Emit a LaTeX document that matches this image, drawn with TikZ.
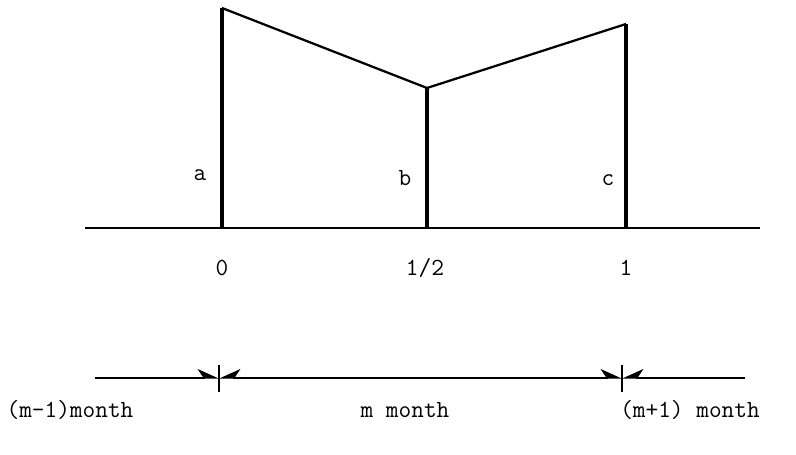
\documentclass[tikz,border=0pt]{standalone}
\usepackage{fontspec}
\usetikzlibrary{arrows.meta}
\tikzset{
  post/.style={line width=2.2pt},
  roof/.style={line width=1.6pt},
  lbl/.style={font=\ttfamily\fontsize{17.5}{20}\selectfont, inner sep=0pt},
  eastharp/.style={line width=0.9pt,-{Stealth[harpoon,length=0.5cm,width=0.45cm,inset=0.15cm]}},
  westharp/.style={line width=0.9pt,-{Stealth[harpoon,swap,length=0.5cm,width=0.45cm,inset=0.15cm]}}
}

\begin{document}
\begin{tikzpicture}[x=0.025cm,y=0.025cm]
  \useasboundingbox (0,0) rectangle (796,454);
  % weights at month start, middle and end
  \coordinate (a0) at (222,226);
  \coordinate (b0) at (427,226);
  \coordinate (c0) at (626,226);
  \coordinate (a1) at (222,446);
  \coordinate (b1) at (427,366);
  \coordinate (c1) at (626,430);
  \coordinate (axl) at (85,226);
  \coordinate (axr) at (760,226);
  \draw[line width=1.4pt] (axl) -- (axr);
  \draw[post] (a0) -- (a1);
  \draw[post] (b0) -- (b1);
  \draw[post] (c0) -- (c1);
  \draw[roof,line join=round] (a1) -- (b1) -- (c1);
  \node[lbl] (la) at (200,279) {a};
  \node[lbl] (lb) at (405,276) {b};
  \node[lbl] (lc) at (608,274) {c};
  \node[lbl] (t0) at (222,186) {0};
  \node[lbl] (th) at (425,186) {1/2};
  \node[lbl] (t1) at (626,186) {1};
  % month scale
  \coordinate (ml) at (95,76);
  \coordinate (mr) at (745,76);
  \coordinate (mc) at (420,76);
  \coordinate (k1) at (219,76);
  \coordinate (k2) at (622,76);
  \draw[line width=1pt] (219,89) -- (219,62);
  \draw[line width=1pt] (622,89) -- (622,62);
  \draw[eastharp] (ml) -- (k1);
  \draw[westharp] (mc) -- (k1);
  \draw[eastharp] (mc) -- (k2);
  \draw[westharp] (mr) -- (k2);
  \node[lbl] (mprev) at (70,44) {(m-1)month};
  \node[lbl] (mcur) at (405,44) {m month};
  \node[lbl] (mnext) at (690,44) {(m+1) month};
\end{tikzpicture}
\end{document}
